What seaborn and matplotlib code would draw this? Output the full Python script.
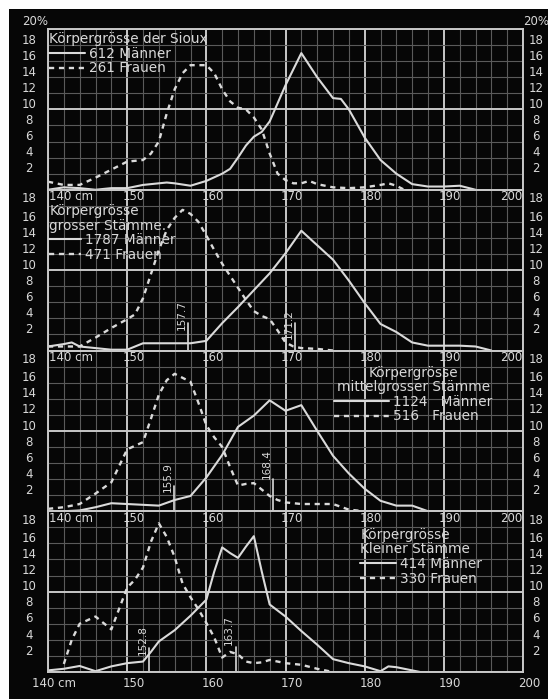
import matplotlib
matplotlib.use("Agg")
import matplotlib.pyplot as plt
from matplotlib.patches import Rectangle
from matplotlib.ticker import MultipleLocator
from matplotlib import transforms, font_manager
import seaborn as sns

# ---------------- data ----------------
sioux_men_cm = [140, 142, 144, 146, 148, 150, 152, 154, 155, 156, 158, 160, 162, 163, 164, 165, 166, 167, 168,
                170, 172, 174, 176, 177, 178, 180, 182, 184, 186, 188, 190, 192, 194]
sioux_men_pct = [0.0, 0.3, 0.2, 0.0, 0.2, 0.2, 0.6, 0.8, 0.9, 0.8, 0.5, 1.1, 2.0, 2.6, 4.0, 5.5, 6.6, 7.2, 8.5,
                 13.0, 17.0, 14.0, 11.4, 11.3, 10.0, 6.5, 3.7, 2.0, 0.7, 0.4, 0.4, 0.5, 0.0]
sioux_women_cm = [140, 142, 144, 146, 148, 150, 152, 153, 154, 155, 156, 157, 158, 160, 161, 162, 163, 164, 165,
                  166, 167, 168, 169, 170, 171, 172, 173, 174, 175, 176, 178, 180, 182, 183, 184, 185]
sioux_women_pct = [1.0, 0.6, 0.6, 1.5, 2.5, 3.5, 3.7, 4.5, 6.0, 9.5, 12.5, 14.5, 15.5, 15.5, 14.5, 12.5, 11.0,
                   10.2, 10.0, 9.0, 7.5, 4.5, 2.0, 1.2, 0.8, 0.8, 1.1, 0.7, 0.5, 0.3, 0.2, 0.3, 0.6, 0.8, 0.5, 0.0]

gross_men_cm = [140, 142, 143, 144, 146, 148, 150, 151, 152, 154, 156, 158, 160, 162, 164, 166, 168, 170, 172,
                174, 176, 178, 180, 182, 183, 184, 186, 188, 190, 192, 194, 196]
gross_men_pct = [0.5, 0.8, 1.0, 0.5, 0.3, 0.1, 0.1, 0.5, 0.9, 0.9, 0.9, 0.9, 1.2, 3.4, 5.4, 7.5, 9.6, 12.1, 14.9,
                 13.1, 11.3, 8.7, 5.9, 3.3, 2.8, 2.3, 1.0, 0.6, 0.6, 0.6, 0.5, 0.0]
gross_women_cm = [140, 142, 144, 146, 148, 150, 151, 152, 153, 154, 155, 156, 157, 158, 159, 160, 161, 162, 163,
                  164, 165, 166, 167, 168, 169, 170, 171, 172, 174, 176]
gross_women_pct = [0.5, 0.5, 0.5, 1.6, 2.8, 3.9, 4.5, 6.5, 9.5, 12.5, 15.0, 16.5, 17.5, 17.0, 16.0, 14.3, 12.5,
                   10.8, 9.3, 7.8, 6.3, 4.9, 4.3, 3.9, 2.5, 1.0, 0.5, 0.3, 0.2, 0.0]

mittel_men_cm = [140, 142, 144, 146, 148, 150, 152, 154, 156, 158, 160, 162, 164, 166, 168, 170, 172, 174, 176,
                 178, 180, 182, 184, 186, 188]
mittel_men_pct = [0.0, 0.0, 0.1, 0.5, 1.0, 0.9, 0.8, 0.7, 1.4, 1.9, 4.2, 7.0, 10.5, 11.9, 13.8, 12.5, 13.2, 10.0,
                  6.9, 4.7, 2.8, 1.3, 0.7, 0.7, 0.0]
mittel_women_cm = [140, 142, 144, 146, 148, 150, 152, 153, 154, 155, 156, 157, 158, 159, 160, 161, 162, 163, 164,
                   165, 166, 167, 168, 169, 170, 172, 174, 176, 178, 180]
mittel_women_pct = [0.3, 0.5, 0.9, 2.2, 3.6, 7.7, 8.6, 11.5, 14.5, 16.3, 17.1, 16.6, 16.1, 13.5, 10.7, 9.2, 8.0,
                    5.5, 3.2, 3.4, 3.5, 2.7, 1.9, 1.4, 1.1, 0.9, 0.9, 0.9, 0.2, 0.0]

klein_men_cm = [140, 142, 144, 146, 148, 150, 152, 153, 154, 156, 158, 160, 161, 162, 163, 164, 165, 166, 167,
                168, 170, 172, 174, 176, 178, 180, 182, 183, 184, 186, 187]
klein_men_pct = [0.2, 0.4, 0.75, 0.1, 0.7, 1.1, 1.3, 2.5, 3.8, 5.2, 7.0, 9.0, 12.5, 15.5, 14.8, 14.2, 15.6, 16.9,
                 12.5, 8.4, 6.9, 5.1, 3.4, 1.6, 1.1, 0.7, 0.1, 0.7, 0.6, 0.2, 0.0]
klein_women_cm = [142, 143, 144, 146, 148, 150, 151, 152, 153, 154, 155, 156, 157, 158, 159, 160, 161, 162, 163,
                  164, 165, 166, 167, 168, 170, 172, 174, 176]
klein_women_pct = [1.0, 4.0, 6.0, 6.9, 5.3, 10.5, 11.5, 13.0, 16.2, 18.5, 16.8, 14.3, 11.0, 9.3, 7.8, 6.1, 4.3,
                   1.8, 2.5, 2.2, 1.3, 1.1, 1.2, 1.5, 1.1, 0.9, 0.4, 0.0]

panel_titles = ["Körpergrösse der Sioux", "Körpergrösse\ngrosser Stämme.",
                "Körpergrösse\nmittelgrosser Stämme", "Körpergrösse\nKleiner Stämme"]
men_labels = ["612 Männer", "1787 Männer", "1124   Männer", "414 Männer"]
women_labels = ["261 Frauen", "471 Frauen", "516   Frauen", "330 Frauen"]
mean_values = [[], [157.7, 171.2], [155.9, 168.4], [152.8, 163.7]]

x_ticks = [140, 150, 160, 170, 180, 190, 200]
x_tick_labels = ["140 cm", "150", "160", "170", "180", "190", "200"]
y_ticks = [2, 4, 6, 8, 10, 12, 14, 16, 18]

men_series = [(sioux_men_cm, sioux_men_pct), (gross_men_cm, gross_men_pct),
              (mittel_men_cm, mittel_men_pct), (klein_men_cm, klein_men_pct)]
women_series = [(sioux_women_cm, sioux_women_pct), (gross_women_cm, gross_women_pct),
                (mittel_women_cm, mittel_women_pct), (klein_women_cm, klein_women_pct)]

# ---------------- style ----------------
sns.set_style("dark")
plt.rcParams['font.family'] = ['DejaVu Sans']

names = {f.name for f in font_manager.fontManager.ttflist}
if 'Liberation Sans Narrow' in names:
    TICKFONT = dict(family=['Liberation Sans Narrow', 'DejaVu Sans'], fontsize=10)
else:
    TICKFONT = dict(family=['DejaVu Sans'], fontsize=8.5)

LINE = '#dadada'
TXT = '#d8d8d8'

fig = plt.figure(figsize=(5.48, 6.99), dpi=100, facecolor='white')
fig.patches.append(Rectangle((9 / 548, 0), 1, 1 - 9 / 699, transform=fig.transFigure,
                             facecolor='#060606', edgecolor='none', zorder=-10))

left = 48 / 548
width = 475 / 548
bottom0 = 1 - 672 / 699
h = 160.75 / 699

legend_pos = [dict(anchor=(0.0, 0.99), align='left', hl=2.6, tmulti='left'),
              dict(anchor=(0.0, 0.92), align='left', hl=2.3, tmulti='left'),
              dict(anchor=(0.60, 0.915), align='center', hl=4.0, tmulti='center'),
              dict(anchor=(0.655, 0.905), align='left', hl=2.6, tmulti='left')]
annot = {157.7: (2.6, 3.4), 171.2: (1.4, 3.4), 155.9: (2.4, 3.1),
         168.4: (4.0, 4.0), 152.8: (2.1, 3.0), 163.7: (3.4, 3.1)}

for i in range(4):
    ax = fig.add_axes([left, bottom0 + (3 - i) * h, width, h])
    ax.set_facecolor('#060606')
    ax.set_xlim(140, 200)
    ax.set_ylim(0, 20)
    ax.xaxis.set_major_locator(MultipleLocator(10))
    ax.xaxis.set_minor_locator(MultipleLocator(2))
    ax.yaxis.set_major_locator(MultipleLocator(10))
    ax.yaxis.set_minor_locator(MultipleLocator(2))
    ax.set_axisbelow(True)
    ax.grid(which='minor', color='#5a5a5a', lw=0.8)
    ax.grid(which='major', color='#c8c8c8', lw=1.4)
    ax.tick_params(which='both', length=0, labelbottom=False, labelleft=False)
    for s in ax.spines.values():
        s.set_color('#c8c8c8')
        s.set_linewidth(1.4)

    mx, my = men_series[i]
    wx, wy = women_series[i]
    sns.lineplot(x=mx, y=my, ax=ax, color=LINE, lw=1.5, estimator=None, sort=False,
                 label=men_labels[i])
    sns.lineplot(x=wx, y=wy, ax=ax, color=LINE, lw=1.7, estimator=None, sort=False,
                 linestyle=(0, (2.2, 2.0)), label=women_labels[i])
    ax.set_xlabel('')
    ax.set_ylabel('')

    lp = legend_pos[i]
    leg = ax.legend(title=panel_titles[i], loc='upper left', bbox_to_anchor=lp['anchor'],
                    frameon=False, handlelength=lp['hl'], handletextpad=0.3,
                    labelspacing=0.05, borderpad=0.1, borderaxespad=0.0,
                    fontsize=9.8, title_fontsize=9.8, alignment=lp['align'])
    leg.get_title().set_color(TXT)
    leg.get_title().set_linespacing(1.05)
    leg.get_title().set_multialignment(lp['tmulti'])
    for t in leg.get_texts():
        t.set_color(TXT)

    # mean annotations
    for m in mean_values[i]:
        tb, lt = annot[m]
        ax.plot([m, m], [0, lt], color=LINE, lw=1.2)
        ax.text(m - 0.8, tb, f"{m:.1f}", rotation=90, ha='center', va='bottom',
                color=TXT, family=TICKFONT['family'], fontsize=TICKFONT['fontsize'] - 1.0)

    # y tick labels both sides
    tr = transforms.blended_transform_factory(ax.transAxes, ax.transData)
    for v in y_ticks:
        off = 0.9 if (v == 18 and i > 0) else 0.6
        ax.text(-0.04, v + off, str(v), transform=tr, ha='center', va='center', color=TXT, **TICKFONT)
        ax.text(1.028, v + off, str(v), transform=tr, ha='center', va='center', color=TXT, **TICKFONT)
    if i == 0:
        ax.text(-0.055, 20.9, "20%", transform=tr, ha='left', va='center', color=TXT, **TICKFONT)
        ax.text(1.0, 20.9, "20%", transform=tr, ha='left', va='center', color=TXT, **TICKFONT)

    # x tick labels along the top of panels 2-4
    if i > 0:
        for xv, lab in zip(x_ticks, x_tick_labels):
            if xv == 140:
                ax.text(xv + 0.15, 19.1, lab, ha='left', va='center', color=TXT, **TICKFONT)
            elif xv == 200:
                ax.text(xv - 0.1, 19.1, lab, ha='right', va='center', color=TXT, **TICKFONT)
            else:
                ax.text(xv - 0.6, 19.1, lab, ha='left', va='center', color=TXT, **TICKFONT)
    if i == 3:
        for xv, lab in zip(x_ticks, x_tick_labels):
            if xv == 140:
                ax.text(xv - 2.0, -1.4, lab, ha='left', va='center', color=TXT, **TICKFONT)
            else:
                ax.text(xv + 0.8, -1.4, lab, ha='center', va='center', color=TXT, **TICKFONT)

fig.savefig("out.png", dpi=100, facecolor=fig.get_facecolor())
